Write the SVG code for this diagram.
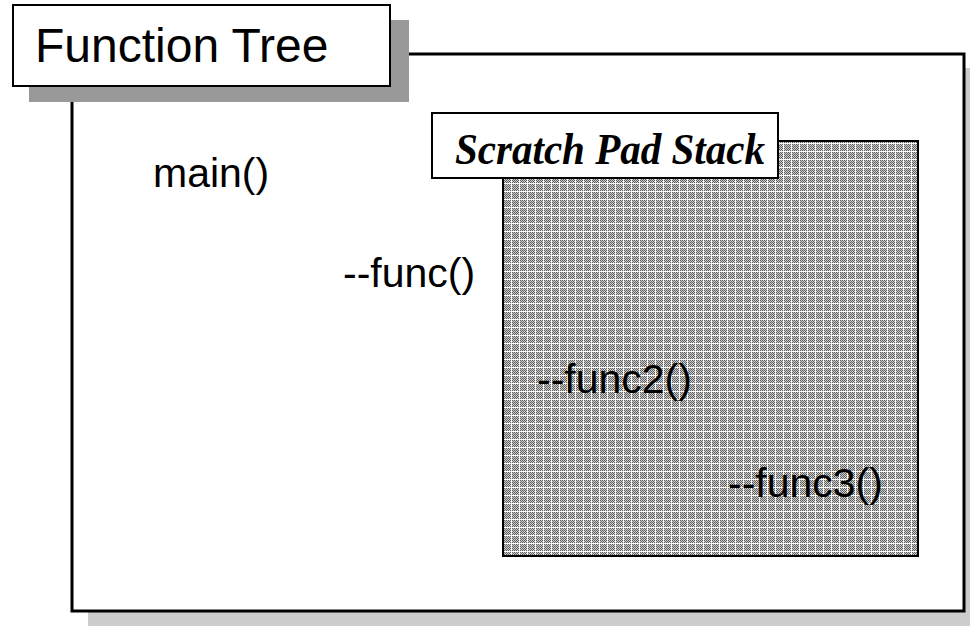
<svg xmlns="http://www.w3.org/2000/svg" width="970" height="626" viewBox="0 0 970 626">
<defs>
<pattern id="dots" x="0" y="0" width="8" height="8" patternUnits="userSpaceOnUse">
<rect width="8" height="8" fill="#d0d0d0"/>
<rect x="0" y="0" width="1" height="1" fill="#5e5e5e"/>
<rect x="2" y="0" width="1" height="1" fill="#5e5e5e"/>
<rect x="4" y="0" width="1" height="1" fill="#5e5e5e"/>
<rect x="6" y="0" width="1" height="1" fill="#5e5e5e"/>
<rect x="1" y="1" width="1" height="1" fill="#5e5e5e"/>
<rect x="3" y="1" width="1" height="1" fill="#5e5e5e"/>
<rect x="5" y="1" width="1" height="1" fill="#5e5e5e"/>
<rect x="0" y="2" width="1" height="1" fill="#5e5e5e"/>
<rect x="2" y="2" width="1" height="1" fill="#5e5e5e"/>
<rect x="4" y="2" width="1" height="1" fill="#5e5e5e"/>
<rect x="6" y="2" width="1" height="1" fill="#5e5e5e"/>
<rect x="1" y="3" width="1" height="1" fill="#5e5e5e"/>
<rect x="3" y="3" width="1" height="1" fill="#5e5e5e"/>
<rect x="5" y="3" width="1" height="1" fill="#5e5e5e"/>
<rect x="0" y="4" width="1" height="1" fill="#5e5e5e"/>
<rect x="2" y="4" width="1" height="1" fill="#5e5e5e"/>
<rect x="4" y="4" width="1" height="1" fill="#5e5e5e"/>
<rect x="6" y="4" width="1" height="1" fill="#5e5e5e"/>
<rect x="1" y="5" width="1" height="1" fill="#5e5e5e"/>
<rect x="3" y="5" width="1" height="1" fill="#5e5e5e"/>
<rect x="5" y="5" width="1" height="1" fill="#5e5e5e"/>
<rect x="0" y="6" width="1" height="1" fill="#5e5e5e"/>
<rect x="2" y="6" width="1" height="1" fill="#5e5e5e"/>
<rect x="4" y="6" width="1" height="1" fill="#5e5e5e"/>
<rect x="6" y="6" width="1" height="1" fill="#5e5e5e"/>
<rect x="0" y="7" width="8" height="1" fill="#fafafa"/>
<rect x="7" y="0" width="1" height="8" fill="#fafafa"/>
</pattern>
<style>
.sans{font-family:"Liberation Sans",Arial,sans-serif;font-size:41px;fill:#000}
</style>
</defs>
<rect width="970" height="626" fill="#fff"/>
<g id="outer">
<rect x="88" y="68" width="882" height="558" fill="#cccccc"/>
<rect x="72" y="54" width="892" height="557" fill="#fff" stroke="#000" stroke-width="3"/>
</g>
<g id="title">
<rect x="29" y="20" width="380" height="82" fill="#999999"/>
<rect x="13" y="5" width="377" height="81" fill="#fff" stroke="#000" stroke-width="2"/>
<text x="35" y="62" font-family="Liberation Sans, Arial, sans-serif" font-size="48" fill="#000">Function Tree</text>
</g>
<g id="stack">
<rect x="503" y="141" width="415" height="415" fill="url(#dots)" stroke="#000" stroke-width="2"/>
</g>
<g id="stack-label">
<rect x="432" y="113" width="346" height="65" fill="#fff" stroke="#000" stroke-width="2"/>
<text x="455" y="164" font-family="Liberation Serif, Times New Roman, serif" font-weight="bold" font-style="italic" font-size="45" textLength="310" lengthAdjust="spacingAndGlyphs" fill="#000">Scratch Pad Stack</text>
</g>
<g id="main"><text class="sans" x="153" y="187">main()</text></g>
<g id="func"><text class="sans" x="343" y="287">--func()</text></g>
<g id="func2"><text class="sans" x="537" y="393">--func2()</text></g>
<g id="func3"><text class="sans" x="728" y="497">--func3()</text></g>
<g id="connectors"></g>
</svg>
